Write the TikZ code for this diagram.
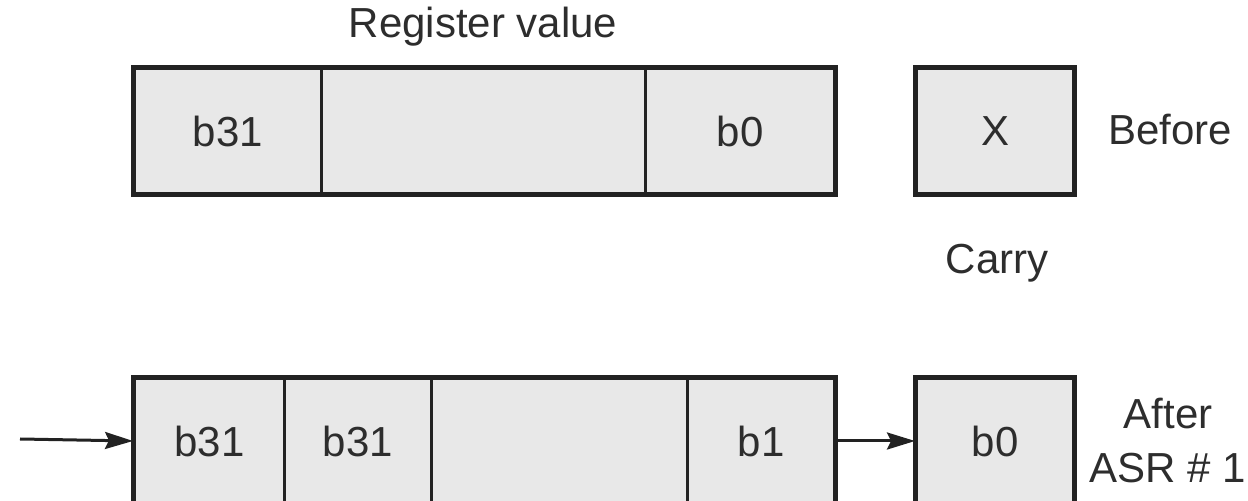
\documentclass[tikz,border=0pt]{standalone}
\usepackage{fontspec}
\setmainfont{Liberation Sans}
\usetikzlibrary{arrows.meta}

\tikzset{every picture/.style={line width=0.75pt}}
\tikzset{
	bitcell/.style={draw={rgb,255:red,34;green,34;blue,34}, fill={rgb,255:red,232;green,232;blue,232}, line width=1.5pt, rectangle, inner sep=0pt, anchor=north west, minimum height=62.5pt, text={rgb,255:red,45;green,45;blue,45}, font=\fontsize{21}{25}\selectfont},
	regframe/.style={draw={rgb,255:red,34;green,34;blue,34}, line width=2pt},
	textlabel/.style={text={rgb,255:red,45;green,45;blue,45}, font=\fontsize{21}{25}\selectfont, inner sep=0pt},
	shiftarrow/.style={draw={rgb,255:red,34;green,34;blue,34}, line width=1.5pt, -{Stealth[length=14pt,width=8.5pt,inset=2pt]}}
}

\begin{document}
\begin{tikzpicture}[x=0.5pt,y=0.5pt,yscale=-1,xscale=1]
	\useasboundingbox (0,0) rectangle (1248,501);

	% Text Node
	\node[textlabel] (regval) at (483,27) {Register value};

	%Register before the shift
	\node[bitcell, minimum width=93.5pt] (tb31) at (133,67) {b31};
	\node[bitcell, minimum width=162pt] (tmid) at (320,67) {};
	\node[bitcell, minimum width=94.5pt] (tb0) at (644,67) {b0};
	\draw[regframe] (tb31.north west) rectangle (tb0.south east);
	%Carry before the shift
	\node[bitcell, minimum width=78.5pt] (tcarry) at (915,67) {X};
	\draw[regframe] (tcarry.north west) rectangle (tcarry.south east);

	% Text Node
	\node[textlabel] (before) at (1170,130) {Before};
	% Text Node
	\node[textlabel] (carry) at (997,263) {Carry};

	%Register after the shift
	\node[bitcell, minimum width=75pt] (bb31a) at (133,377) {b31};
	\node[bitcell, minimum width=73.5pt] (bb31b) at (283,377) {b31};
	\node[bitcell, minimum width=128pt] (bmid) at (430,377) {};
	\node[bitcell, minimum width=73.5pt] (bb1) at (686,377) {b1};
	\draw[regframe] (bb31a.north west) rectangle (bb1.south east);
	%Carry after the shift
	\node[bitcell, minimum width=78.5pt] (bcarry) at (915,377) {b0};
	\draw[regframe] (bcarry.north west) rectangle (bcarry.south east);

	%Shift arrows
	\coordinate (sign) at (20,439);
	\draw[shiftarrow] (sign) -- (bb31a.west);
	\draw[shiftarrow] (bb1.east) -- (bcarry.west);

	% Text Node
	\node[textlabel, align=center] (after) at (1168,441) {After\\[2pt]ASR \# 1};

\end{tikzpicture}
\end{document}
